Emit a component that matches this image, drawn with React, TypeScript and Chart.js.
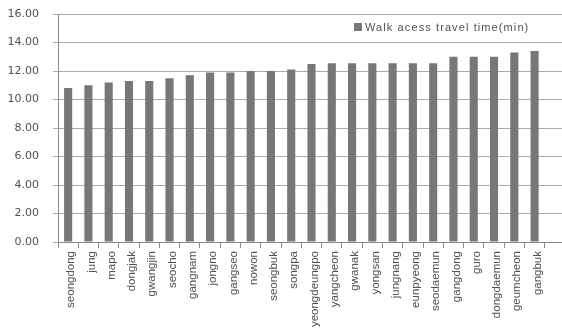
import React, { useEffect, useRef } from "react";
import { Chart, registerables } from "chart.js";

Chart.register(...registerables);

// District names in ascending order of walk access time; the trailing blank slot keeps the axis running on.
const districts = [
  "seongdong", "jung", "mapo", "dongjak", "gwangjin", "seocho", "gangnam", "jongno",
  "gangseo", "nowon", "seongbuk", "songpa", "yeongdeungpo", "yangcheon", "gwanak",
  "yongsan", "jungnang", "eunpyeong", "seodaemun", "gangdong", "guro", "dongdaemun",
  "geumcheon", "gangbuk", "",
];

// Walk access travel time in minutes
const walkTimes = [
  10.8, 11.0, 11.2, 11.3, 11.3, 11.5, 11.7, 11.9, 11.9, 12.0, 12.0, 12.1,
  12.5, 12.55, 12.55, 12.55, 12.55, 12.55, 12.55, 13.0, 13.0, 13.0, 13.3, 13.4, null,
];

const seriesLabel = "Walk acess travel time(min)";
const yTicks = { min: 0, max: 16, step: 2 };

const FONT = "'DejaVu Sans', sans-serif";
const LABEL_FONT = "'Liberation Sans', Arial, sans-serif";
const BAR = "#777777";
const TEXT = "#505050";

// Legend drawn inside the plot, near the top right
const insideLegend = {
  id: "insideLegend",
  afterDraw(chart: any) {
    const ctx = chart.ctx;
    const ds = chart.data.datasets[0];
    ctx.save();
    ctx.fillStyle = ds.backgroundColor;
    ctx.fillRect(354, 23, 8, 8);
    ctx.fillStyle = TEXT;
    ctx.font = `11px ${LABEL_FONT}`;
    (ctx as any).letterSpacing = "1.1px";
    ctx.textAlign = "left";
    ctx.textBaseline = "middle";
    ctx.fillText(ds.label, 365, 27.5);
    ctx.restore();
  },
};

export default function App() {
  const canvasRef = useRef<HTMLCanvasElement | null>(null);

  useEffect(() => {
    const chart = new Chart(canvasRef.current as HTMLCanvasElement, {
      type: "bar",
      data: {
        labels: districts,
        datasets: [
          {
            label: seriesLabel,
            data: walkTimes as any,
            backgroundColor: BAR,
            borderWidth: 0,
            barPercentage: 0.4,
            categoryPercentage: 1,
          },
        ],
      },
      options: {
        animation: false,
        responsive: false,
        maintainAspectRatio: false,
        layout: { autoPadding: false, padding: { left: 0, right: 35, top: 14, bottom: 0 } },
        plugins: { legend: { display: false }, tooltip: { enabled: false } },
        scales: {
          x: {
            grid: {
              offset: true,
              drawOnChartArea: false,
              drawTicks: true,
              tickLength: 6,
              color: "#8c8c8c",
            },
            border: { color: "#8c8c8c" },
            ticks: {
              autoSkip: false,
              minRotation: 90,
              maxRotation: 90,
              padding: 3,
              labelOffset: 3,
              color: TEXT,
              font: { family: LABEL_FONT, size: 11.5 },
            },
            afterFit(scale: any) {
              scale.height = 88;
            },
          },
          y: {
            min: yTicks.min,
            max: yTicks.max,
            grid: { color: "#ababab", tickLength: 5, drawTicks: true },
            border: { color: "#8c8c8c" },
            ticks: {
              stepSize: yTicks.step,
              padding: 14,
              color: TEXT,
              font: { family: FONT, size: 11 },
              callback: (v: any) => Number(v).toFixed(2),
            },
            afterFit(scale: any) {
              scale.width = 58;
              scale.paddingTop = 0;
              scale.paddingBottom = 0;
            },
          },
        },
      },
      plugins: [insideLegend],
    });
    return () => chart.destroy();
  }, []);

  return (
    <div
      style={{
        position: "fixed",
        left: 0,
        top: 0,
        width: 562,
        height: 330,
        overflow: "hidden",
        background: "#ffffff",
      }}
    >
      <canvas ref={canvasRef} width={600} height={330} style={{ display: "block" }} />
    </div>
  );
}
